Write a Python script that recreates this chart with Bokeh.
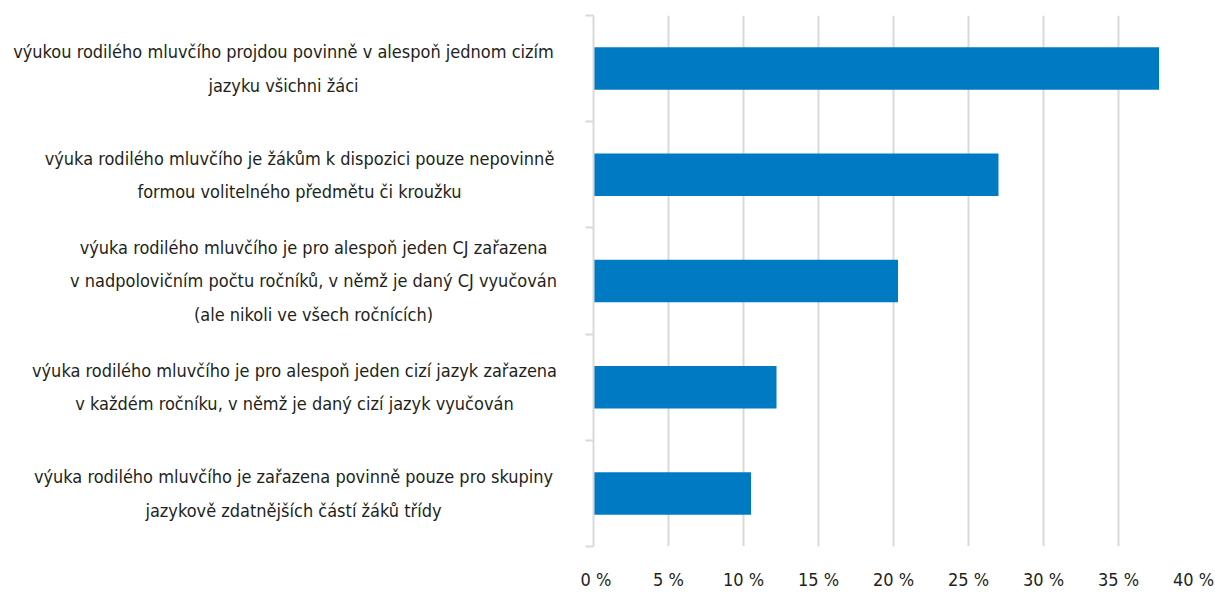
from bokeh.plotting import figure
from bokeh.layouts import row
from bokeh.models import Range1d, FixedTicker, ColumnDataSource
from bokeh.core.properties import value
from bokeh.embed import file_html
from bokeh.resources import INLINE

categories = [
    "výukou rodilého mluvčího projdou povinně v alespoň jednom cizím\njazyku všichni žáci",
    "výuka rodilého mluvčího je žákům k dispozici pouze nepovinně\nformou volitelného předmětu či kroužku",
    "výuka rodilého mluvčího je pro alespoň jeden CJ zařazena\nv nadpolovičním počtu ročníků, v němž je daný CJ vyučován\n(ale nikoli ve všech ročnících)",
    "výuka rodilého mluvčího je pro alespoň jeden cizí jazyk zařazena\nv každém ročníku, v němž je daný cizí jazyk vyučován",
    "výuka rodilého mluvčího je zařazena povinně pouze pro skupiny\njazykově zdatnějších částí žáků třídy",
]
values = [37.7, 27.0, 20.3, 12.2, 10.5]
tick_values = [0, 5, 10, 15, 20, 25, 30, 35, 40]
tick_labels = ["0 %", "5 %", "10 %", "15 %", "20 %", "25 %", "30 %", "35 %", "40 %"]

# layout (label block centres in the label panel, screen px)
label_centres = [283, 299, 313, 294, 293]

FONT = "DejaVu Sans Condensed"
TXT = "#231F20"
GRID = "#D9D9D9"
BAR = "#007BC3"

n = len(categories)
ypos = [i + 0.5 for i in range(n)]
yr = Range1d(n, 0)

src = ColumnDataSource(dict(y=ypos, v=values, lab=categories, cx=label_centres))

H = 592
TOP = 15
BOT = 41

left = figure(width=580, height=H, x_range=Range1d(0, 580), y_range=yr,
              output_backend="svg", toolbar_location=None,
              min_border_left=0, min_border_right=0, min_border_top=TOP, min_border_bottom=BOT)
left.axis.visible = False
left.grid.visible = False
left.outline_line_color = None
left.text(x="cx", y="y", text="lab", source=src, text_align="center", text_baseline="middle",
          text_font=value(FONT), text_font_size="18px", text_color=TXT, text_line_height=1.6)

p = figure(width=635, height=H, x_range=Range1d(0, 40), y_range=yr,
           output_backend="svg", toolbar_location=None,
           min_border_left=13, min_border_right=22, min_border_top=TOP, min_border_bottom=BOT)
p.outline_line_color = None
p.hbar(y="y", right="v", left=0, height=0.4, source=src, fill_color=BAR, line_color=None)

p.xaxis.ticker = FixedTicker(ticks=tick_values)
p.xaxis.major_label_overrides = {t: l for t, l in zip(tick_values, tick_labels)}
p.xaxis.axis_line_color = None
p.xaxis.major_tick_line_color = None
p.xaxis.minor_tick_line_color = None
p.xaxis.major_label_text_font = FONT
p.xaxis.major_label_text_font_size = "18px"
p.xaxis.major_label_text_color = TXT
p.xaxis.major_label_standoff = 16

p.yaxis.ticker = FixedTicker(ticks=list(range(n + 1)))
p.yaxis.major_label_overrides = {i: "" for i in range(n + 1)}
p.yaxis.major_label_standoff = 0
p.yaxis.axis_line_color = GRID
p.yaxis.axis_line_width = 2
p.yaxis.major_tick_line_color = GRID
p.yaxis.major_tick_line_width = 2
p.yaxis.major_tick_out = 8
p.yaxis.major_tick_in = 0
p.yaxis.minor_tick_line_color = None

p.xgrid.ticker = FixedTicker(ticks=tick_values)
p.xgrid.grid_line_color = GRID
p.xgrid.grid_line_width = 2
p.ygrid.grid_line_color = None

layout = row(left, p)
open("out.html", "w").write(file_html(layout, INLINE))
